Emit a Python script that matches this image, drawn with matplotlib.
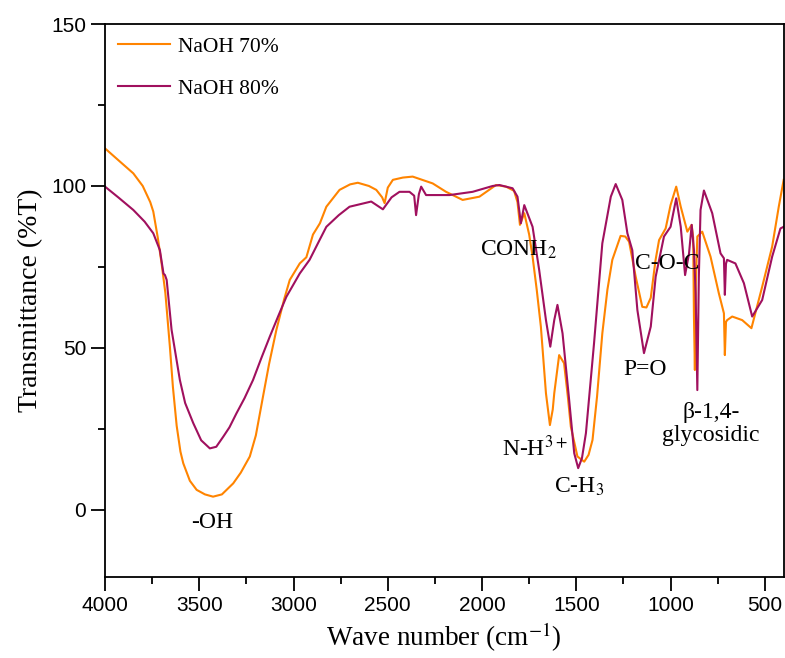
import matplotlib
matplotlib.use('agg')
import matplotlib.pyplot as plt
from matplotlib.ticker import MultipleLocator

plt.rcParams['mathtext.fontset'] = 'stix'

# wave number (cm-1) and transmittance (%T)
wn_70 = [4000, 3930, 3850, 3800, 3760, 3744, 3720, 3700, 3680, 3656, 3640, 3620, 3600,
         3585, 3550, 3514, 3470, 3427, 3380, 3320, 3280, 3232, 3200, 3162, 3130, 3091,
         3050, 3020, 2967, 2932, 2897, 2860, 2826, 2756, 2700, 2659, 2600, 2561, 2530,
         2517, 2500, 2473, 2420, 2368, 2262, 2191, 2103, 2014, 1926, 1873, 1830, 1812,
         1799, 1776, 1750, 1732, 1710, 1688, 1661, 1640, 1625, 1617, 1591, 1565, 1545,
         1529, 1494, 1458, 1435, 1414, 1390, 1362, 1335, 1309, 1265, 1240, 1220, 1185,
         1150, 1128, 1105, 1080, 1061, 1026, 1000, 970, 946, 911, 888, 880, 876, 871,
         866, 858, 832, 788, 744, 717, 712, 706, 700, 673, 620, 571, 514, 461, 426, 400]
t_70 = [111.6, 108.0, 103.9, 100.0, 95.0, 92.1, 84.0, 76.1, 67.0, 50.4, 38.0, 26.0, 18.0,
        14.4, 9.0, 6.2, 4.8, 4.1, 4.8, 8.2, 11.5, 16.5, 23.0, 35.0, 45.0, 55.6,
        65.0, 71.0, 76.1, 78.0, 85.0, 88.5, 93.6, 98.8, 100.5, 101.0, 100.0, 98.8, 96.5,
        94.7, 99.5, 101.9, 102.6, 102.9, 100.8, 98.2, 95.7, 96.7, 100.3, 99.8, 98.5, 95.0,
        88.0, 91.6, 85.0, 78.2, 68.0, 56.6, 36.0, 26.2, 31.0, 36.0, 47.8, 45.3, 35.0,
        25.7, 16.5, 14.9, 17.0, 21.6, 35.0, 54.5, 68.0, 77.2, 84.6, 84.4, 82.8, 72.0,
        62.7, 62.5, 65.5, 77.0, 83.3, 86.9, 94.1, 99.8, 93.6, 85.9, 88.0, 84.0, 60.0, 43.2,
        70.0, 84.4, 85.9, 78.2, 66.9, 60.7, 47.8, 58.0, 58.6, 59.7, 58.6, 56.1, 68.9, 81.3, 93.6, 101.9]

wn_80 = [4000, 3930, 3850, 3790, 3744, 3709, 3690, 3682, 3673, 3647, 3603, 3575, 3532,
         3490, 3444, 3410, 3373, 3340, 3303, 3260, 3215, 3170, 3126, 3080, 3038, 2967,
         2915, 2862, 2826, 2760, 2703, 2588, 2526, 2480, 2438, 2385, 2360, 2350, 2335,
         2323, 2297, 2173, 2050, 1944, 1908, 1838, 1812, 1794, 1776, 1732, 1697, 1661,
         1638, 1617, 1600, 1573, 1538, 1511, 1490, 1470, 1449, 1406, 1362, 1317, 1291, 1256,
         1229, 1203, 1176, 1141, 1105, 1079, 1035, 1000, 970, 946, 923, 902, 888, 876,
         867, 858, 850, 841, 823, 779, 735, 717, 712, 706, 700, 656, 611, 567, 514,
         461, 417, 400]
t_80 = [99.8, 96.5, 92.6, 89.0, 85.4, 80.2, 73.0, 72.5, 71.0, 55.6, 40.1, 33.0, 26.8,
        21.5, 19.0, 19.5, 22.6, 25.5, 29.8, 34.5, 40.1, 47.0, 53.5, 60.0, 65.8, 73.0,
        77.2, 83.3, 87.4, 91.0, 93.6, 95.2, 92.8, 96.5, 98.2, 98.2, 97.0, 91.0, 97.5,
        99.8, 97.2, 97.2, 98.2, 100.0, 100.3, 99.3, 96.7, 88.5, 94.1, 87.4, 74.1, 58.6,
        50.4, 58.6, 63.3, 54.5, 34.0, 17.5, 12.9, 16.0, 23.7, 51.4, 82.3, 96.7, 100.6, 95.7,
        85.4, 80.2, 61.7, 48.4, 56.6, 72.0, 84.4, 87.4, 96.2, 87.4, 72.5, 79.2, 88.0, 80.2,
        66.9, 37.0, 72.0, 92.6, 98.6, 91.6, 79.2, 77.7, 66.4, 76.0, 77.2, 76.1, 70.0, 59.7, 64.8,
        78.2, 86.9, 87.4]

labels = ['NaOH 70%', 'NaOH 80%']
cores = ['#FF8400', '#A0105E']

serif = ['Liberation Serif', 'DejaVu Serif']
sans = ['Liberation Sans', 'DejaVu Sans']

fig = plt.figure(figsize=(7.85, 6.58), dpi=100)
ax = fig.add_axes([0.1338, 0.1231, 0.8645, 0.8404])

ax.plot(wn_70, t_70, color=cores[0], lw=1.5, label=labels[0])
ax.plot(wn_80, t_80, color=cores[1], lw=1.5, label=labels[1])

ax.set_xlim(4000, 400)
ax.set_ylim(-20.7, 150)
ax.xaxis.set_major_locator(MultipleLocator(500))
ax.xaxis.set_minor_locator(MultipleLocator(250))
ax.yaxis.set_major_locator(MultipleLocator(50))
ax.yaxis.set_minor_locator(MultipleLocator(25))
ax.tick_params(which='major', direction='out', length=10, width=1.3, labelsize=15)
ax.tick_params(which='minor', direction='out', length=5, width=1.3)
for lab in ax.get_xticklabels() + ax.get_yticklabels():
    lab.set_family(sans)
for sp in ax.spines.values():
    sp.set_linewidth(1.3)

ax.set_xlabel('Wave number (cm$^{-1}$)', family=serif, fontsize=19.5, labelpad=4)
ax.set_ylabel('Transmittance (%T)', family=serif, fontsize=20, labelpad=6)

# rotulos das bandas
anot = [('-OH', 3433, -4.0), ('CONH$_2$', 1805, 80.2), ('C-O-C', 1019, 76.2),
        ('P=O', 1135, 43.2), ('N-H$^{3+}$', 1723, 19.1), ('C-H$_3$', 1485, 7.1),
        ('β-1,4-\nglycosidic', 787, 26.5)]
for txt, x, y in anot:
    ax.text(x, y, txt, family=serif, fontsize=17, ha='center', va='center',
            multialignment='center', linespacing=1.15)

leg = ax.legend(loc='upper left', frameon=False, prop={'family': serif, 'size': 15.5},
                handlelength=2.4, handletextpad=0.4, labelspacing=1.0,
                borderaxespad=0.3, borderpad=0.3)

fig.savefig('out.png', dpi=100)
plt.close('all')
